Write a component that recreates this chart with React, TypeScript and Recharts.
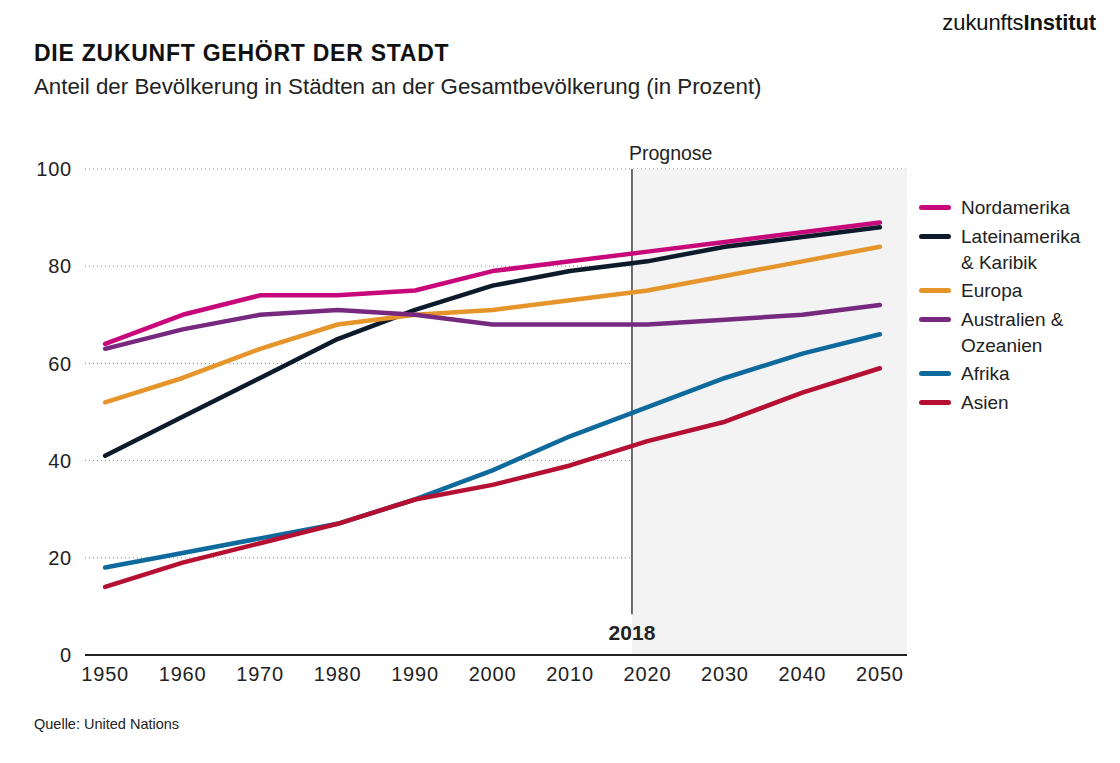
import {
  LineChart,
  Line,
  XAxis,
  YAxis,
  CartesianGrid,
  ReferenceArea,
  ReferenceLine,
} from "recharts";

const years = [1950, 1960, 1970, 1980, 1990, 2000, 2010, 2020, 2030, 2040, 2050];

const nordamerika = [64, 70, 74, 74, 75, 79, 81, 83, 85, 87, 89];
const lateinamerika = [41, 49, 57, 65, 71, 76, 79, 81, 84, 86, 88];
const europa = [52, 57, 63, 68, 70, 71, 73, 75, 78, 81, 84];
const australien = [63, 67, 70, 71, 70, 68, 68, 68, 69, 70, 72];
const afrika = [18, 21, 24, 27, 32, 38, 45, 51, 57, 62, 66];
const asien = [14, 19, 23, 27, 32, 35, 39, 44, 48, 54, 59];

const yTicks = [0, 20, 40, 60, 80, 100];
const prognoseYear = 2018;

const series = [
  { key: "nordamerika", label: ["Nordamerika"], color: "#c8087a", values: nordamerika },
  { key: "lateinamerika", label: ["Lateinamerika", "& Karibik"], color: "#0c1a2c", values: lateinamerika },
  { key: "europa", label: ["Europa"], color: "#e6952b", values: europa },
  { key: "australien", label: ["Australien &", "Ozeanien"], color: "#76297f", values: australien },
  { key: "afrika", label: ["Afrika"], color: "#0e6a9c", values: afrika },
  { key: "asien", label: ["Asien"], color: "#b50f31", values: asien },
];

const data = years.map((year, i) => {
  const row: Record<string, number> = { year };
  series.forEach((s) => {
    row[s.key] = s.values[i];
  });
  return row;
});

const font = "'Liberation Sans', Arial, sans-serif";
const X_MIN = 1947.4;
const X_MAX = 2053.5;

function Legend() {
  return (
    <div style={{ position: "absolute", left: 919, top: 195, fontFamily: font, fontSize: 19, color: "#222" }}>
      {series.map((s) => (
        <div key={s.key} style={{ display: "flex", alignItems: "flex-start", marginBottom: 2.5 }}>
          <div
            style={{
              width: 32,
              height: 5,
              borderRadius: 3,
              background: s.color,
              marginTop: 10,
              marginRight: 10,
              flexShrink: 0,
            }}
          />
          <div style={{ lineHeight: "26px" }}>
            {s.label.map((l) => (
              <div key={l}>{l}</div>
            ))}
          </div>
        </div>
      ))}
    </div>
  );
}

export default function App() {
  return (
    <div style={{ position: "absolute", left: 0, top: 0, width: 1120, height: 763, background: "#fff", fontFamily: font }}>
      <div style={{ position: "absolute", right: 24, top: 10, fontSize: 22, color: "#111", letterSpacing: -0.1 }}>
        zukunfts<b>Institut</b>
      </div>
      <div style={{ position: "absolute", left: 34, top: 40, fontSize: 23, fontWeight: 900, color: "#111", letterSpacing: 0.75 }}>
        DIE ZUKUNFT GEHÖRT DER STADT
      </div>
      <div style={{ position: "absolute", left: 34, top: 74, fontSize: 22.3, color: "#222" }}>
        Anteil der Bevölkerung in Städten an der Gesamtbevölkerung (in Prozent)
      </div>
      <div style={{ position: "absolute", left: 34, top: 716, fontSize: 14.5, color: "#222" }}>
        Quelle: United Nations
      </div>

      <LineChart width={1120} height={763} data={data} margin={{ top: 169, right: 213, left: 25, bottom: 68 }}>
        <ReferenceArea x1={prognoseYear} x2={X_MAX} y1={0} y2={100} fill="#f3f3f3" fillOpacity={1} stroke="none" />
        <CartesianGrid vertical={false} stroke="#888" strokeDasharray="1 3" />
        <XAxis
          dataKey="year"
          type="number"
          domain={[X_MIN, X_MAX]}
          ticks={years}
          interval={0}
          tickLine={false}
          tickSize={0}
          tickMargin={12}
          height={40}
          axisLine={{ stroke: "#222", strokeWidth: 2 }}
          tick={{ fill: "#222", fontSize: 20, fontFamily: font, letterSpacing: 0.8 }}
        />
        <YAxis
          type="number"
          domain={[0, 100]}
          ticks={yTicks}
          interval={0}
          width={60}
          axisLine={false}
          tickLine={false}
          tickSize={0}
          tickMargin={13}
          tick={{ fill: "#222", fontSize: 20, fontFamily: font, letterSpacing: 0.8 }}
        />
        <ReferenceLine
          x={prognoseYear}
          stroke="none"
          label={(props: any) => {
            const vb = props.viewBox || {};
            return (
              <g>
                <text x={vb.x - 3} y={vb.y - 9} fontSize={19.5} fill="#222" fontFamily={font}>
                  Prognose
                </text>
                <text
                  x={vb.x}
                  y={vb.y + vb.height - 15}
                  fontSize={21}
                  fontWeight={700}
                  fill="#222"
                  textAnchor="middle"
                  fontFamily={font}
                >
                  {prognoseYear}
                </text>
              </g>
            );
          }}
        />
        <ReferenceLine
          segment={[
            { x: prognoseYear, y: 100 },
            { x: prognoseYear, y: 8.4 },
          ]}
          stroke="#111"
          strokeWidth={1.2}
        />
        {series.map((s) => (
          <Line
            key={s.key}
            dataKey={s.key}
            type="linear"
            stroke={s.color}
            strokeWidth={4.5}
            strokeLinecap="round"
            strokeLinejoin="round"
            dot={false}
            activeDot={false}
            isAnimationActive={false}
          />
        ))}
      </LineChart>
      <Legend />
    </div>
  );
}
